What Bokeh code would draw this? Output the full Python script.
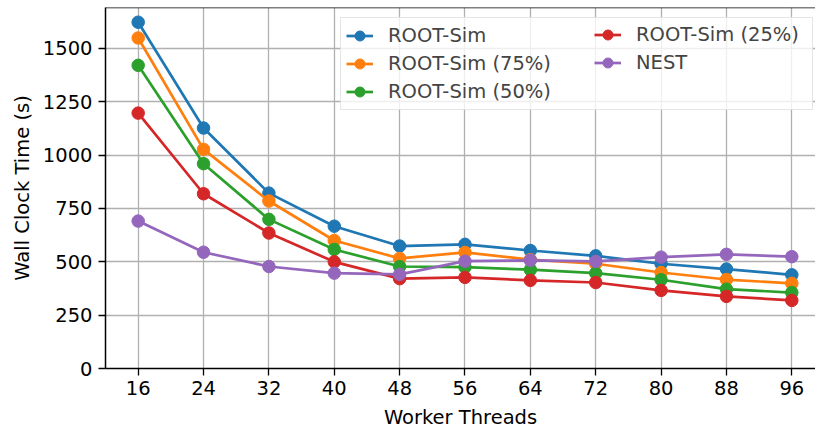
from bokeh.plotting import figure
from bokeh.models import Legend, FixedTicker, Range1d, Span
from bokeh.embed import file_html
from bokeh.resources import INLINE

threads = [16, 24, 32, 40, 48, 56, 64, 72, 80, 88, 96]
root_sim = [1623, 1127, 822, 667, 574, 582, 553, 528, 491, 466, 439]
root_sim_75 = [1549, 1027, 785, 600, 516, 544, 510, 491, 450, 417, 399]
root_sim_50 = [1421, 960, 699, 558, 478, 475, 463, 447, 416, 372, 356]
root_sim_25 = [1197, 819, 635, 500, 421, 427, 413, 403, 366, 338, 319]
nest = [691, 545, 478, 447, 441, 503, 507, 502, 522, 535, 524]

series_names = ["ROOT-Sim", "ROOT-Sim (75%)", "ROOT-Sim (50%)", "ROOT-Sim (25%)", "NEST"]
series_values = [root_sim, root_sim_75, root_sim_50, root_sim_25, nest]
colors = ["#1f77b4", "#ff7f0e", "#2ca02c", "#d62728", "#9467bd"]
y_ticks = [0, 250, 500, 750, 1000, 1250, 1500]

FONT = "DejaVu Sans"
FS = "19.5px"
Y_TOP = 1692

p = figure(frame_width=710, frame_height=361, output_backend="svg", toolbar_location=None,
           x_range=Range1d(12, 98.9), y_range=Range1d(0, Y_TOP),
           min_border_left=105, min_border_top=7, min_border_right=0, min_border_bottom=64)
p.background_fill_color = "white"
p.border_fill_color = "white"
p.outline_line_color = None

p.grid.grid_line_color = "#b0b0b0"
p.grid.grid_line_width = 1.3
p.xgrid.ticker = FixedTicker(ticks=threads)
p.ygrid.ticker = FixedTicker(ticks=y_ticks)

p.add_layout(Span(location=Y_TOP, dimension="width", line_color="black", line_width=1.5))

items = []
for name, vals, c in zip(series_names, series_values, colors):
    r1 = p.line(threads, vals, line_color=c, line_width=2.7)
    r2 = p.scatter(threads, vals, size=12.5, fill_color=c, line_color=c)
    items.append((name, [r1, r2]))


def style_legend(lg):
    lg.label_text_font = FONT
    lg.label_text_font_size = FS
    lg.label_height = 25
    lg.glyph_height = 25
    lg.glyph_width = 27
    lg.label_standoff = 15
    lg.spacing = 3
    lg.padding = 5
    lg.margin = 0


# first column carries the box; second column drawn over it
legend1 = Legend(items=items[:3], location=(235, 258))
style_legend(legend1)
legend1.label_width = 419
legend1.border_line_color = "#cccccc"
legend1.border_line_width = 1.3
legend1.background_fill_alpha = 0.8

legend2 = Legend(items=items[3:], location=(489, 293))
style_legend(legend2)
legend2.border_line_color = None
legend2.background_fill_alpha = 0.0

p.add_layout(legend1)
p.add_layout(legend2)

for ax in (p.xaxis[0], p.yaxis[0]):
    ax.major_label_text_font = FONT
    ax.major_label_text_font_size = FS
    ax.axis_label_text_font = FONT
    ax.axis_label_text_font_size = FS
    ax.axis_label_text_font_style = "normal"
    ax.axis_line_color = "black"
    ax.axis_line_width = 1.5
    ax.major_tick_line_width = 1.3
    ax.major_tick_out = 7
    ax.major_tick_in = 0
    ax.minor_tick_line_color = None
    ax.major_label_text_color = "black"
    ax.axis_label_text_color = "black"

p.xaxis.ticker = FixedTicker(ticks=threads)
p.yaxis.ticker = FixedTicker(ticks=y_ticks)
p.xaxis.axis_label = "Worker Threads"
p.yaxis.axis_label = "Wall Clock Time (s)"
p.xaxis.major_label_standoff = 5
p.yaxis.major_label_standoff = 6
p.xaxis.axis_label_standoff = 8
p.yaxis.axis_label_standoff = 6

open("out.html", "w").write(file_html(p, INLINE))
